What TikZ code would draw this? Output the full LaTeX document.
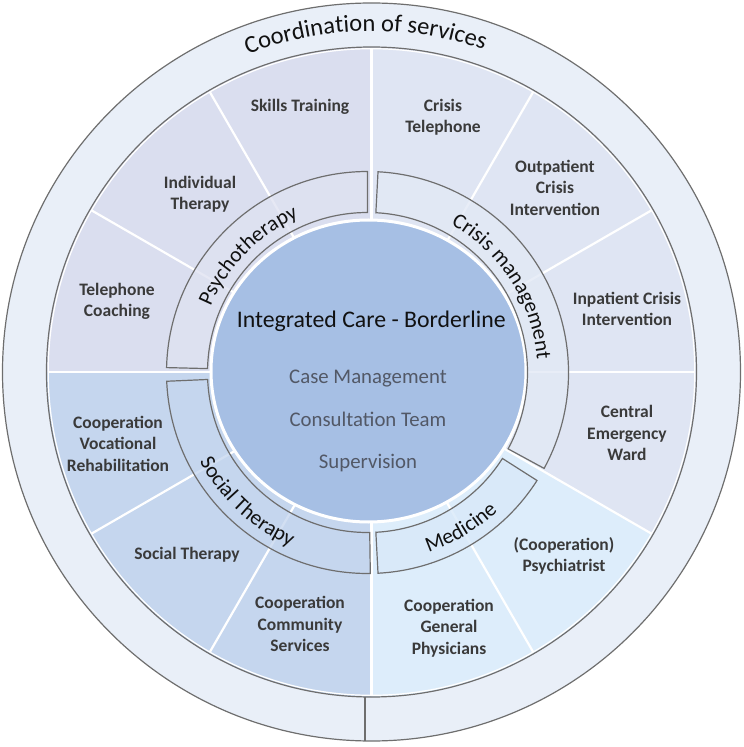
\documentclass[tikz,border=0pt]{standalone}
\usepackage{fontspec}
\setmainfont{Carlito}
\usetikzlibrary{decorations.text}
\definecolor{ringc}{HTML}{E9EFF8}
\definecolor{psyc}{HTML}{DADEEF}
\definecolor{crisc}{HTML}{DFE5F3}
\definecolor{medc}{HTML}{DDEDFB}
\definecolor{socc}{HTML}{C5D6EE}
\definecolor{psyb}{HTML}{DFE2F1}
\definecolor{crisb}{HTML}{E2E9F5}
\definecolor{medb}{HTML}{D8E9F9}
\definecolor{socb}{HTML}{C6D7EF}
\definecolor{corec}{HTML}{A6BFE4}
\definecolor{edgec}{HTML}{6E6E6E}
\definecolor{labc}{HTML}{3A3A3A}
\definecolor{subc}{HTML}{525866}
\definecolor{titc}{HTML}{111111}
\tikzset{
  edgeline/.style={draw=edgec, line width=1.2pt},
  divider/.style={draw=white, line width=2.2pt},
  bandbox/.style={edgeline, fill opacity=0.78},
  lab/.style={font=\fontsize{17.5}{21.5}\selectfont\bfseries, text=labc, align=center, inner sep=0pt},
  sublab/.style={font=\fontsize{20.8}{22}\selectfont, text=subc, anchor=base, inner sep=0pt},
  titlab/.style={font=\fontsize{23.8}{26}\selectfont, text=titc, anchor=base, inner sep=0pt},
}
\begin{document}
\begin{tikzpicture}[x=1pt,y=1pt]
\useasboundingbox (-371.5,-375) rectangle (372.5,372);
% outer ring
\fill[ringc] (0,0) circle (369);
\draw[edgeline] (0,0) circle (369);
% quadrant wedges
\fill[psyc] (0,0) -- (90:325) arc[start angle=90,end angle=180,radius=325] -- cycle;
\fill[crisc] (0,0) -- (-30:325) arc[start angle=-30,end angle=90,radius=325] -- cycle;
\fill[medc] (0,0) -- (-90:325) arc[start angle=-90,end angle=-30,radius=325] -- cycle;
\fill[socc] (0,0) -- (180:325) arc[start angle=180,end angle=270,radius=325] -- cycle;
\foreach \a in {0,30,...,330} \draw[divider] (0,0) -- (\a:323.5);
\draw[white, line width=1.2pt] (0,0) circle (323.3);
\draw[edgeline] (0,0) circle (325);
\draw[edgeline] (-6.5,-324.9) -- (-6.5,-368.9);
% core
\draw[white, line width=3pt, fill=corec] (-3,1) ellipse [x radius=157.5, y radius=151];
% category bands
\begin{scope}[shift={(-4,-0.5)}]
\path[bandbox, fill=psyb] (90:160) arc[start angle=90,end angle=178.6,radius=160] -- (178.6:201) arc[start angle=178.6,end angle=90,radius=201] -- cycle;
\path[bandbox, fill=crisb] (87:160) arc[start angle=87,end angle=-28.5,radius=160] -- (-28.5:201) arc[start angle=-28.5,end angle=87,radius=201] -- cycle;
\path[bandbox, fill=medb] (273:160) arc[start angle=273,end angle=327.5,radius=160] -- (327.5:201) arc[start angle=327.5,end angle=273,radius=201] -- cycle;
\path[bandbox, fill=socb] (182.5:160) arc[start angle=182.5,end angle=270.8,radius=160] -- (270.8:201) arc[start angle=270.8,end angle=182.5,radius=201] -- cycle;
% curved labels
\path[decorate, decoration={text along path, text align=center, text color=titc,
    text={|\fontsize{21.5}{21.5}\selectfont|Psychotherapy}}]
    (178:170) arc[start angle=178,end angle=93.2,radius=170];
\path[decorate, decoration={text along path, text align=center, text color=titc,
    text={|\fontsize{21.5}{21.5}\selectfont|Crisis management}}]
    (87:170) arc[start angle=87,end angle=-22,radius=170];
\path[decorate, decoration={text along path, text align=center, text color=titc,
    text={|\fontsize{21.5}{21.5}\selectfont|Social Therapy}}]
    (185:190) arc[start angle=185,end angle=269,radius=190];
\path[decorate, decoration={text along path, text align=center, text color=titc,
    text={|\fontsize{21.5}{21.5}\selectfont|Medicine}}]
    (275:190) arc[start angle=275,end angle=327,radius=190];
\end{scope}
\path[decorate, decoration={text along path, text align=center, text color=titc,
    text={|\fontsize{24.5}{24.5}\selectfont|Coordination of services}}]
    (150:341) arc[start angle=150,end angle=32,radius=341];
% core texts
\node[titlab] (title) at (-0.3,45) {Integrated Care - Borderline};
\node[sublab] (cm) at (-3.5,-11) {Case Management};
\node[sublab] (ct) at (-3.5,-54) {Consultation Team};
\node[sublab] (sv) at (-3.5,-96) {Supervision};
% sector labels
\node[lab] (skills) at (-71.5,265) {Skills Training};
\node[lab] (indiv) at (-171.5,178) {Individual\\Therapy};
\node[lab] (telco) at (-254.5,70.5) {Telephone\\Coaching};
\node[lab] (crtel) at (71.5,255) {Crisis\\Telephone};
\node[lab] (outp) at (183.5,184.5) {Outpatient\\Crisis\\Intervention};
\node[lab] (inp) at (255.5,63) {Inpatient Crisis\\Intervention};
\node[lab] (cew) at (255.5,-61) {Central\\Emergency\\Ward};
\node[lab] (psych) at (192.5,-184) {(Cooperation)\\Psychiatrist};
\node[lab] (gp) at (77.5,-256) {Cooperation\\General\\Physicians};
\node[lab] (comm) at (-71.5,-252) {Cooperation\\Community\\Services};
\node[lab] (soc) at (-184.5,-183) {Social Therapy};
\node[lab] (voc) at (-253.5,-71.5) {Cooperation\\Vocational\\Rehabilitation};
\end{tikzpicture}
\end{document}
